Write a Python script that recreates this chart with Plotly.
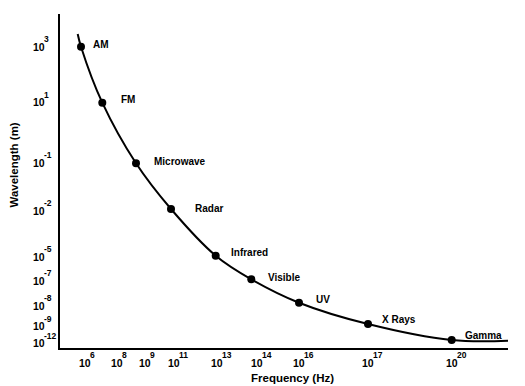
import plotly.graph_objects as go

# Schematic chart: positions along each (non-linear) axis
bands = ["AM", "FM", "Microwave", "Radar", "Infrared", "Visible", "UV", "X Rays", "Gamma"]
band_freq_pos = [21, 42.3, 76, 111, 155.7, 191.3, 239, 308, 391.7]
band_wave_pos = [301.3, 245.3, 184.7, 139, 92.3, 68.7, 45.3, 24, 8]

# curve extends a little beyond the first and last bands
curve_freq_pos = [17.7] + band_freq_pos + [448]
curve_wave_pos = [314] + band_wave_pos + [7.3]

freq_tick_exp = ["6", "8", "9", "11", "13", "14", "16", "17", "20"]
freq_tick_pos = [25, 56.7, 85, 114, 156.7, 196.7, 239, 307.7, 392]
wave_tick_exp = ["3", "1", "-1", "-2", "-5", "-7", "-8", "-9", "-12"]
wave_tick_pos = [301.3, 246, 185.3, 137.3, 91.3, 67.3, 42.3, 22, 5]

FONT = "Liberation Sans, Arial, sans-serif"
BOLD = dict(family=FONT, color="black", weight="bold")

fig = go.Figure()
fig.add_trace(go.Scatter(
    x=curve_freq_pos, y=curve_wave_pos, mode="lines",
    line=dict(color="black", width=2, shape="spline", smoothing=1.0),
    hoverinfo="skip", showlegend=False))
fig.add_trace(go.Scatter(
    x=band_freq_pos, y=band_wave_pos, mode="markers",
    marker=dict(color="black", size=8), text=bands, showlegend=False))

label_dx = [10, 17, 16, 22, 13, 15, 15, 12, 11]
label_dy = [2, 3, 2, 1, 3, 2, 3, 5, 5]
for name, x, y, dx, dy in zip(bands, band_freq_pos, band_wave_pos, label_dx, label_dy):
    fig.add_annotation(x=x, y=y, text=name, showarrow=False, xanchor="left",
                       yanchor="middle", xshift=dx, yshift=dy,
                       font=dict(BOLD, size=10))

# y tick labels: "10" left aligned, exponent raised
for e, y in zip(wave_tick_exp, wave_tick_pos):
    fig.add_annotation(x=0, xref="paper", y=y, yref="y", text="10", showarrow=False,
                       xanchor="left", yanchor="middle", xshift=-28, borderpad=0,
                       font=dict(BOLD, size=10.5))
    fig.add_annotation(x=0, xref="paper", y=y, yref="y", text=e, showarrow=False,
                       xanchor="left", yanchor="middle", xshift=-16.7, yshift=7.3,
                       borderpad=0, font=dict(BOLD, size=8.5))

# x tick labels
for e, x in zip(freq_tick_exp, freq_tick_pos):
    fig.add_annotation(x=x, xref="x", y=0, yref="paper", text="10", showarrow=False,
                       xanchor="center", yanchor="middle", yshift=-14.5, borderpad=0,
                       font=dict(BOLD, size=10.5))
    fig.add_annotation(x=x, xref="x", y=0, yref="paper", text=e, showarrow=False,
                       xanchor="left", yanchor="middle", xshift=4, yshift=-6.5,
                       borderpad=0, font=dict(BOLD, size=8.5))

fig.add_annotation(x=0.52, xref="paper", y=0, yref="paper", text="Frequency (Hz)",
                   showarrow=False, xanchor="center", yanchor="middle", yshift=-30,
                   font=dict(BOLD, size=11.5))
fig.add_annotation(x=0, xref="paper", y=0.5, yref="paper", text="Wavelength (m)",
                   showarrow=False, xanchor="center", yanchor="middle", xshift=-46.5,
                   yshift=16, textangle=-90, font=dict(BOLD, size=11.5))

fig.update_xaxes(range=[0, 448], showline=True, linecolor="black", linewidth=2,
                 showgrid=False, zeroline=False, ticks="", showticklabels=False,
                 automargin=False)
fig.update_yaxes(range=[0, 334], showline=True, linecolor="black", linewidth=2,
                 showgrid=False, zeroline=False, ticks="", showticklabels=False,
                 automargin=False)

# the page body adds an 8px offset, so the figure is 8px smaller with margins shifted
fig.update_layout(width=517, height=378, margin=dict(l=52, r=17, t=6, b=38, autoexpand=False),
                  plot_bgcolor="white", paper_bgcolor="white", showlegend=False)

fig.write_html("out.html")
